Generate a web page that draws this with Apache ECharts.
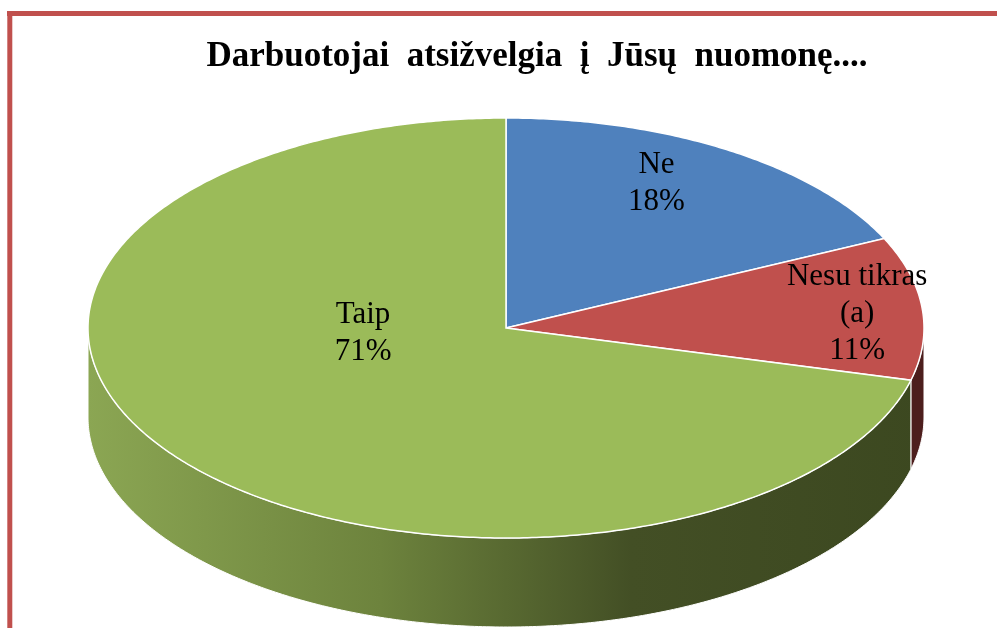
<!DOCTYPE html>
<html>
<head>
<meta charset="utf-8">
<script src="https://cdn.jsdelivr.net/npm/echarts@6/dist/echarts.min.js"></script>
<style>
  html, body { margin: 0; padding: 0; background: #fff; }
  #chart { width: 997px; height: 628px; }
</style>
</head>
<body>
<div id="chart"></div>
<script>
// 数据
const titleWords = ['Darbuotojai', 'atsižvelgia', 'į', 'Jūsų', 'nuomonę....']
const categories = ['Ne', 'Nesu tikras\n(a)', 'Taip']
const values = [18, 11, 71]

// 样式 / 布局
const topColors = ['#4f81bd', '#c0504d', '#9bbb59']
const sideColors = [
  '#2c4d75',
  '#4d1e1d',
  {
    type: 'linear', global: true, x: 88, y: 0, x2: 924, y2: 0,
    colorStops: [
      { offset: 0, color: '#8ba653' },
      { offset: 0.35, color: '#6d833d' },
      { offset: 0.65, color: '#434f25' },
      { offset: 1, color: '#3c4820' }
    ]
  }
]
// 标签相对中心的偏移（单位：横/纵半径）
const labelOffsets = [[0.36, -0.69], [0.84, -0.065], [-0.342, 0.024]]

const layout = { cx: 506, cy: 328, rx: 418, ry: 210, depth: 89 }
const total = values.reduce((a, b) => a + b, 0)

function sliceAngles(i) {
  let before = 0
  for (let k = 0; k < i; k++) before += values[k]
  return [before / total * Math.PI * 2, (before + values[i]) / total * Math.PI * 2]
}

function pt(t, dy) {
  return [layout.cx + layout.rx * Math.sin(t), layout.cy - layout.ry * Math.cos(t) + (dy || 0)]
}

function arcPoints(a0, a1, dy) {
  const pts = []
  const n = Math.max(4, Math.ceil((a1 - a0) / 0.01))
  for (let s = 0; s <= n; s++) pts.push(pt(a0 + (a1 - a0) * s / n, dy))
  return pts
}

function renderSide(params) {
  const i = params.dataIndex
  const [a0, a1] = sliceAngles(i)
  // 只有前半部分（3 点到 9 点方向）的侧面可见
  const s = Math.max(a0, Math.PI / 2)
  const e = Math.min(a1, Math.PI * 1.5)
  if (e <= s) return { type: 'group', children: [] }
  const pts = arcPoints(s, e, 0).concat(arcPoints(s, e, layout.depth).reverse())
  return {
    type: 'polygon',
    shape: { points: pts },
    style: { fill: sideColors[i], stroke: '#ffffff', lineWidth: 1 }
  }
}

function renderTop(params) {
  const i = params.dataIndex
  const [a0, a1] = sliceAngles(i)
  const pts = [[layout.cx, layout.cy]].concat(arcPoints(a0, a1, 0))
  const off = labelOffsets[i]
  return {
    type: 'group',
    children: [
      {
        type: 'polygon',
        shape: { points: pts },
        style: { fill: topColors[i], stroke: '#ffffff', lineWidth: 1.5 }
      },
      {
        type: 'text',
        x: layout.cx + off[0] * layout.rx,
        y: layout.cy + off[1] * layout.ry,
        style: {
          text: categories[i] + '\n' + Math.round(values[i] / total * 100) + '%',
          fill: '#000',
          font: '31px "Liberation Serif", serif',
          lineHeight: 37,
          align: 'center',
          verticalAlign: 'middle'
        }
      }
    ]
  }
}

const chart = echarts.init(document.getElementById('chart'))
const seriesData = categories.map((name, i) => ({ name, value: values[i] }))

chart.setOption({
  backgroundColor: '#ffffff',
  animation: false,
  graphic: [
    {
      type: 'line',
      shape: { x1: 7, y1: 13.5, x2: 997, y2: 13.5 },
      style: { stroke: '#c0504d', lineWidth: 5 }
    },
    {
      type: 'line',
      shape: { x1: 9.8, y1: 11, x2: 9.8, y2: 628 },
      style: { stroke: '#c0504d', lineWidth: 5 }
    },
    {
      type: 'text',
      x: 537,
      y: 57,
      style: {
        // 原图标题字间距较宽
        text: titleWords.join('  '),
        fill: '#000',
        font: 'bold 35px "Liberation Serif", serif',
        align: 'center',
        verticalAlign: 'middle'
      }
    }
  ],
  series: [
    {
      type: 'custom',
      coordinateSystem: 'none',
      z: 1,
      data: seriesData,
      renderItem: renderSide
    },
    {
      type: 'custom',
      coordinateSystem: 'none',
      z: 2,
      data: seriesData,
      renderItem: renderTop
    }
  ]
})
</script>
</body>
</html>
